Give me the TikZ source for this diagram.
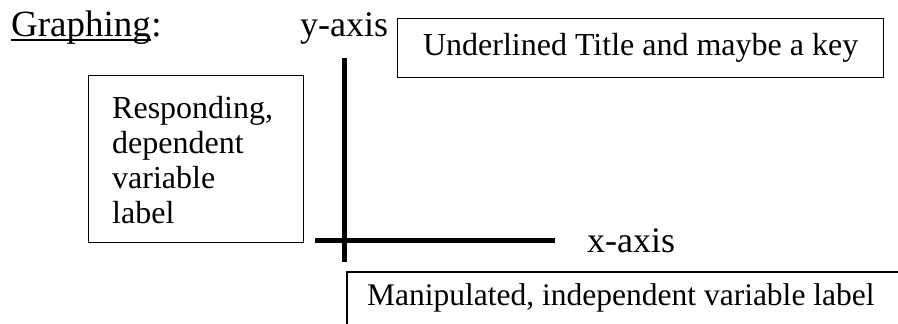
\documentclass[tikz,border=0pt]{standalone}
\usepackage{fontspec}
\setmainfont{Liberation Serif}
\tikzset{
  boxline/.style={draw=black, line width=1.3pt},
  axisline/.style={draw=black, line width=5pt},
  bigtext/.style={font=\fontsize{36}{42}\selectfont, inner sep=0pt},
  boxtext/.style={font=\fontsize{32}{35}\selectfont, inner sep=0pt},
}
\begin{document}
\begin{tikzpicture}[x=1pt, y=-1pt]
\useasboundingbox (0,0) rectangle (898,324);
\clip (0,0) rectangle (898,324);

% heading
\node[bigtext, font=\fontsize{37}{42}\selectfont, anchor=base west] (heading) at (11,36) {Graphing};
\node[bigtext, font=\fontsize{37}{42}\selectfont, anchor=base west] (colon) at (heading.base east) {:};
\draw[line width=1.5pt] ([yshift=-4pt]heading.base west) -- ([yshift=-4pt]heading.base east);

% y-axis label
\node[bigtext, anchor=base west] (ylab) at (300,36) {y-axis};

% title box
\node[boxline, boxtext, anchor=north west, minimum width=486pt, minimum height=59pt] (titlebox) at (397,18) {Underlined Title and maybe a key};

% responding box
\node[boxline, anchor=north west, minimum width=215pt, minimum height=167pt, inner sep=0pt] (respbox) at (88,75) {};
\node[boxtext, anchor=north west, align=left] (resptext) at (112,96) {Responding,\\dependent\\variable\\label};

% axes
\coordinate (ytop) at (344.5,58);
\coordinate (ybot) at (344.5,262);
\coordinate (xleft) at (315,240);
\coordinate (xright) at (555,240);
\draw[axisline] (ytop) -- (ybot);
\draw[axisline] (xleft) -- (xright);

% x-axis label
\node[bigtext, anchor=base west] (xlab) at (587,252) {x-axis};

% manipulated box (cut off at the right and bottom)
\node[boxtext, font=\fontsize{31.5}{35}\selectfont, anchor=base west] (manip) at (367,305) {Manipulated, independent variable label};
\coordinate (mbottom) at (347,340);
\coordinate (mright) at (910,272);
\draw[boxline, line width=1.6pt] (mbottom) |- (mright);
\end{tikzpicture}
\end{document}
